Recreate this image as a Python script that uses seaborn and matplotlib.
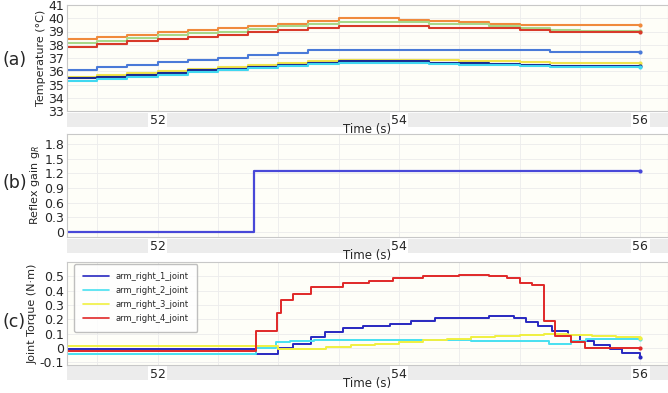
import numpy as np
import pandas as pd
import matplotlib
matplotlib.use("Agg")
import matplotlib.pyplot as plt
from matplotlib.patches import Rectangle
from matplotlib.ticker import MultipleLocator, FixedLocator
import seaborn as sns

# ---- (a) temperature data, sampled every 0.25 s ----
temp_time = [51.25, 51.5, 51.75, 52.0, 52.25, 52.5, 52.75, 53.0, 53.25, 53.5,
             53.75, 54.0, 54.25, 54.5, 54.75, 55.0, 55.25, 55.5, 55.75, 56.0]
temp_orange = [38.45, 38.55, 38.75, 38.95, 39.1, 39.25, 39.45, 39.6, 39.8, 40.0,
               40.0, 39.85, 39.8, 39.7, 39.6, 39.5, 39.5, 39.5, 39.5, 39.5]
temp_green = [38.15, 38.3, 38.5, 38.7, 38.85, 39.0, 39.2, 39.4, 39.6, 39.75,
              39.75, 39.7, 39.6, 39.55, 39.4, 39.3, 39.1, 39.05, 39.02, 39.02]
temp_red = [37.85, 38.05, 38.25, 38.45, 38.6, 38.75, 38.95, 39.1, 39.3, 39.4,
            39.4, 39.4, 39.3, 39.25, 39.23, 39.15, 39.0, 39.0, 39.0, 39.0]
temp_blue = [36.1, 36.3, 36.5, 36.7, 36.85, 37.0, 37.2, 37.35, 37.58, 37.6,
             37.6, 37.6, 37.6, 37.6, 37.6, 37.6, 37.45, 37.45, 37.45, 37.45]
temp_yellow = [35.6, 35.75, 35.9, 36.05, 36.2, 36.35, 36.5, 36.65, 36.8, 36.85,
               36.85, 36.85, 36.85, 36.8, 36.75, 36.7, 36.65, 36.6, 36.6, 36.6]
temp_navy = [35.5, 35.6, 35.75, 35.9, 36.1, 36.2, 36.35, 36.45, 36.6, 36.8,
             36.8, 36.8, 36.65, 36.6, 36.55, 36.5, 36.4, 36.4, 36.4, 36.4]
temp_cyan = [35.3, 35.45, 35.6, 35.75, 35.95, 36.1, 36.25, 36.4, 36.55, 36.6,
             36.6, 36.6, 36.55, 36.5, 36.5, 36.4, 36.35, 36.32, 36.32, 36.32]

temp_series = {"orange": temp_orange, "green": temp_green, "red": temp_red,
               "blue": temp_blue, "yellow": temp_yellow, "navy": temp_navy,
               "cyan": temp_cyan}
temp_colors = {"orange": "#f08a3c", "green": "#a8d88a", "red": "#d83a2a",
               "blue": "#4a7ad8", "yellow": "#f0e44a", "navy": "#1a2a90",
               "cyan": "#40d8f0"}

# ---- (b) reflex gain ----
gain_time = [51.25, 52.8, 56.0]
gain_value = [0.0, 1.25, 1.25]

# ---- (c) joint torques ----
j1_time = [51.25, 52.82, 53.0, 53.12, 53.27, 53.39, 53.54, 53.7, 53.93, 54.1,
           54.3, 54.75, 54.95, 55.05, 55.15, 55.27, 55.4, 55.5, 55.62, 55.75,
           55.85, 56.0]
j1_value = [-0.005, -0.045, 0.0, 0.025, 0.075, 0.11, 0.14, 0.155, 0.17, 0.19,
            0.21, 0.22, 0.21, 0.18, 0.15, 0.12, 0.09, 0.05, 0.02, -0.01,
            -0.035, -0.065]
j2_time = [51.25, 52.82, 52.98, 53.1, 53.3, 54.0, 54.6, 55.24, 55.43, 55.55,
           55.7, 56.0]
j2_value = [-0.04, 0.0, 0.04, 0.05, 0.058, 0.055, 0.05, 0.025, 0.045, 0.06,
            0.065, 0.065]
j3_time = [51.25, 52.82, 53.0, 53.2, 53.4, 53.6, 53.8, 54.0, 54.2, 54.4,
           54.6, 54.8, 55.0, 55.2, 55.4, 55.6, 55.8, 56.0]
j3_value = [0.015, 0.012, -0.01, -0.005, 0.005, 0.02, 0.03, 0.04, 0.055, 0.065,
            0.075, 0.085, 0.09, 0.095, 0.09, 0.08, 0.075, 0.07]
j4_time = [51.25, 52.82, 52.99, 53.02, 53.12, 53.27, 53.54, 53.75, 53.95, 54.2,
           54.5, 54.75, 54.9, 55.0, 55.1, 55.2, 55.29, 55.43, 55.54, 56.0]
j4_value = [-0.02, 0.12, 0.245, 0.335, 0.375, 0.425, 0.45, 0.47, 0.49, 0.505,
            0.51, 0.5, 0.49, 0.455, 0.44, 0.19, 0.08, 0.04, 0.0, 0.0]

joint_names = ["arm_right_1_joint", "arm_right_2_joint",
               "arm_right_3_joint", "arm_right_4_joint"]
joint_times = [j1_time, j2_time, j3_time, j4_time]
joint_values = [j1_value, j2_value, j3_value, j4_value]
joint_colors = ["#2828c0", "#48e0f0", "#f0f040", "#e02828"]

sns.set_style("whitegrid")
plt.rcParams["font.family"] = ["DejaVu Sans"]

fig = plt.figure(figsize=(6.68, 3.93), dpi=100)
fig.patch.set_facecolor("white")

L, W = 67 / 668, 601 / 668
ax_a = fig.add_axes([L, 1 - 111 / 393, W, 106 / 393])
ax_b = fig.add_axes([L, 1 - 237 / 393, W, 103 / 393])
ax_c = fig.add_axes([L, 1 - 365 / 393, W, 103 / 393])

# light gray bands under each panel (behind the axes and tick labels)
for bottom_px in (113, 239, 366):
    fig.patches.append(Rectangle((L, 1 - (bottom_px + 14) / 393), W, 14 / 393,
                                 transform=fig.transFigure, facecolor="#ececec",
                                 edgecolor="none", zorder=-5))

line_kw = dict(drawstyle="steps-post", estimator=None, marker="o",
               markevery=[-1], markersize=3, markeredgewidth=0)

temp_df = pd.DataFrame(
    [(t, v, name) for name, vals in temp_series.items()
     for t, v in zip(temp_time, vals)],
    columns=["time", "temp", "sensor"])
sns.lineplot(data=temp_df, x="time", y="temp", hue="sensor",
             palette=temp_colors, linewidth=1.5, legend=False, ax=ax_a, **line_kw)

gain_df = pd.DataFrame({"time": gain_time, "gain": gain_value})
sns.lineplot(data=gain_df, x="time", y="gain", color="#4848d8", linewidth=1.6,
             ax=ax_b, **line_kw)

torque_df = pd.DataFrame(
    [(t, v, name) for name, ts, vs in zip(joint_names, joint_times, joint_values)
     for t, v in zip(ts, vs)],
    columns=["time", "torque", "joint"])
sns.lineplot(data=torque_df, x="time", y="torque", hue="joint",
             hue_order=joint_names, palette=dict(zip(joint_names, joint_colors)),
             linewidth=1.4, ax=ax_c, **line_kw)

for ax in (ax_a, ax_b, ax_c):
    ax.set_facecolor("#fefef8")
    ax.set_xlim(51.25, 56.23)
    ax.xaxis.set_major_locator(FixedLocator([52, 54, 56]))
    ax.xaxis.set_minor_locator(MultipleLocator(0.5))
    ax.grid(which="both", color="#ececec", linewidth=0.6)
    ax.tick_params(which="both", length=0, labelsize=9, pad=2)
    for s in ax.spines.values():
        s.set_color("#c8c8c8")
        s.set_linewidth(0.8)
    ax.set_xlabel("Time (s)", fontsize=8.5, labelpad=-3)
    for lab in ax.get_xticklabels():
        lab.set_bbox(dict(facecolor="white", edgecolor="none", pad=1))

ax_a.set_ylim(33, 41)
ax_a.set_yticks(range(33, 42))
ax_a.set_ylabel("Temperature (\u00b0C)", fontsize=8, labelpad=2)

ax_b.set_ylim(-0.1, 2.0)
ax_b.set_yticks([0, 0.3, 0.6, 0.9, 1.2, 1.5, 1.8])
ax_b.set_yticklabels(["0", "0.3", "0.6", "0.9", "1.2", "1.5", "1.8"])
ax_b.set_ylabel("Reflex gain g$_R$", fontsize=8, labelpad=2)

ax_c.set_ylim(-0.12, 0.6)
ax_c.set_yticks([-0.1, 0, 0.1, 0.2, 0.3, 0.4, 0.5])
ax_c.set_yticklabels(["-0.1", "0", "0.1", "0.2", "0.3", "0.4", "0.5"])
ax_c.set_ylabel("Joint Torque (N\u00b7m)", fontsize=8, labelpad=2)
leg = ax_c.legend(loc="upper left", bbox_to_anchor=(0.012, 0.98), fontsize=6,
                  frameon=True, fancybox=True, handlelength=3.2,
                  borderpad=1.0, labelspacing=0.6, borderaxespad=0)
leg.get_frame().set_edgecolor("#b0b0b0")
leg.get_frame().set_facecolor("white")
for h in leg.get_lines():
    h.set_linewidth(1.2)
    h.set_marker("")

for lbl, y in (("(a)", 0.847), ("(b)", 0.534), ("(c)", 0.181)):
    fig.text(0.004, y, lbl, fontsize=12.5, va="center", ha="left")

fig.savefig("out.png", dpi=100)
